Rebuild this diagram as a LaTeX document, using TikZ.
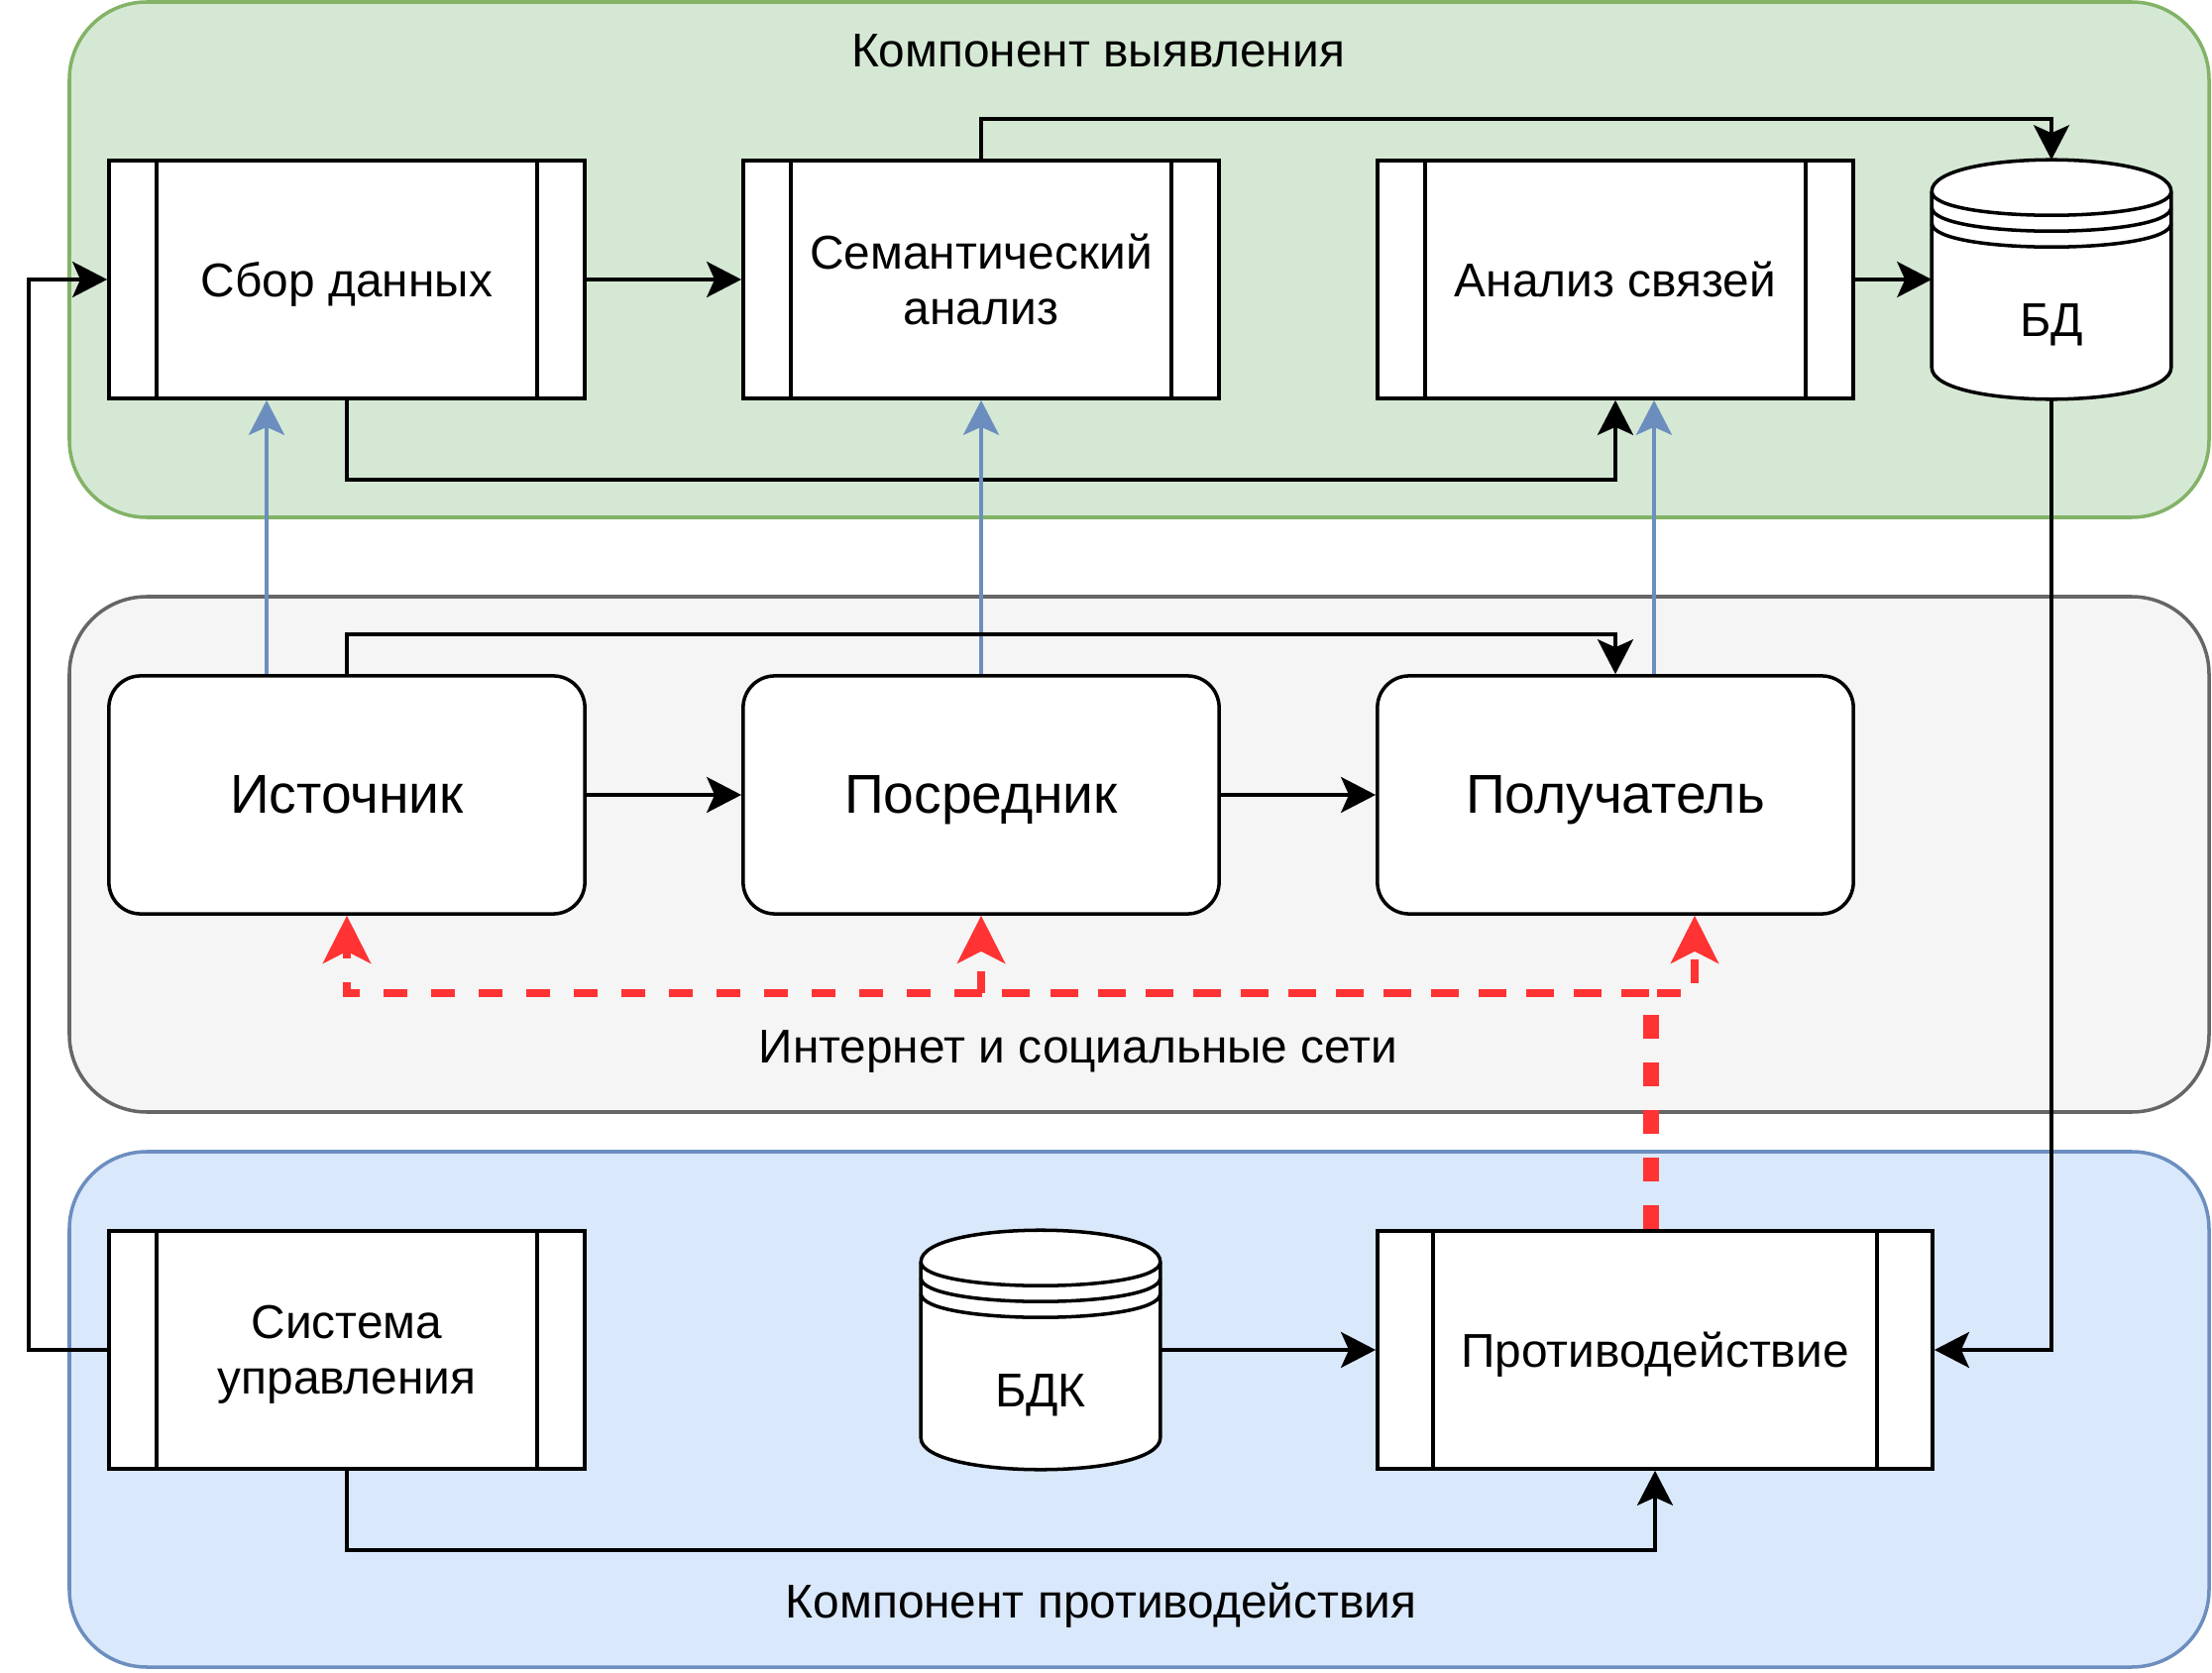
\documentclass[tikz,border=0pt]{standalone}
\usepackage{fontspec}
\setmainfont{Liberation Sans}
\usepackage{tikz}
\usetikzlibrary{calc,arrows.meta}
\usepackage{xcolor}
\definecolor{grnFill}{HTML}{D5E8D4}
\definecolor{grnLine}{HTML}{82B366}
\definecolor{gryFill}{HTML}{F5F5F5}
\definecolor{gryLine}{HTML}{666666}
\definecolor{bluFill}{HTML}{DAE8FC}
\definecolor{bluLine}{HTML}{6C8EBF}
\definecolor{redLine}{HTML}{FF3333}
\newcommand{\smallfont}{\fontsize{13.6}{16}\selectfont}
\newcommand{\bigfont}{\fontsize{15.7}{18}\selectfont}
% datastore drum drawn round an empty node
\newcommand{\drum}[1]{%
  \filldraw[fill=white,line width=1pt]
    ($(#1.north west)+(0,32)$) .. controls ($(#1.north west)+(0,-10.67)$) and ($(#1.north east)+(0,-10.67)$) .. ($(#1.north east)+(0,32)$)
    -- ($(#1.south east)+(0,-32)$) .. controls ($(#1.south east)+(0,10.67)$) and ($(#1.south west)+(0,10.67)$) .. ($(#1.south west)+(0,-32)$) -- cycle;
  \foreach \k in {0,16,32}
    \draw[line width=1pt] ($(#1.north west)+(0,32+\k)$) .. controls ($(#1.north west)+(0,64+\k)$) and ($(#1.north east)+(0,64+\k)$) .. ($(#1.north east)+(0,32+\k)$);
}

\begin{document}
\begin{tikzpicture}[x=0.01cm,y=-0.01cm,
    every node/.style={font=\smallfont,inner sep=0pt,text depth=0pt},
    panel/.style={line width=1pt,rounded corners=0.78cm},
    procbox/.style={draw,line width=1pt,fill=white,minimum width=4.8cm,minimum height=2.4cm,align=center,
      path picture={
        \draw[line width=1pt] ($(path picture bounding box.south west)!0.1!(path picture bounding box.south east)$) -- ($(path picture bounding box.north west)!0.1!(path picture bounding box.north east)$);
        \draw[line width=1pt] ($(path picture bounding box.south west)!0.9!(path picture bounding box.south east)$) -- ($(path picture bounding box.north west)!0.9!(path picture bounding box.north east)$);
      }},
    netbox/.style={draw,line width=1pt,fill=white,rounded corners=0.32cm,minimum width=4.8cm,minimum height=2.4cm,font=\bigfont},
    drumbox/.style={minimum width=2.4cm,minimum height=2.4cm},
    lbl/.style={anchor=base},
    link/.style={line width=1pt,-{Stealth[length=0.35cm,width=0.36cm,inset=0.08cm]}},
    blink/.style={line width=1pt,bluLine,-{Stealth[length=0.35cm,width=0.36cm,inset=0.08cm]}},
    rlink/.style={line width=2.2pt,redLine,dash pattern=on 0.24cm off 0.24cm,-{Stealth[length=0.48cm,width=0.48cm,inset=0.12cm]}}]

    % page
    \fill[white] (0,0) rectangle (2232,1688);
    \useasboundingbox (0,0) rectangle (2232,1688);

    % three layers
    \filldraw[panel,fill=grnFill,draw=grnLine] (70,2) rectangle (2229,522);
    \filldraw[panel,fill=gryFill,draw=gryLine] (70,602) rectangle (2229,1122);
    \filldraw[panel,fill=bluFill,draw=bluLine] (70,1162) rectangle (2229,1682);

    \node[lbl] (detTitle) at (1108,68) {Компонент выявления};
    \node[lbl] (netTitle) at (1088,1072) {Интернет и социальные сети};
    \node[lbl] (cntTitle) at (1111,1632) {Компонент противодействия};

    % detection component
    \node[procbox] (sbor) at (350,282) {Сбор данных};
    \node[procbox] (sem) at (990,282) {Семантический\\анализ};
    \node[procbox] (anal) at (1630,282) {Анализ связей};
    \node[drumbox] (bd) at (2070,282) {};
    \drum{bd}
    \node (bdText) at ($(bd.center)+(0,41)$) {БД};

    % network
    \node[netbox] (ist) at (350,802) {Источник};
    \node[netbox] (pos) at (990,802) {Посредник};
    \node[netbox] (pol) at (1630,802) {Получатель};

    % counteraction component
    \node[procbox] (sys) at (350,1362) {Система\\управления};
    \node[drumbox] (bdk) at (1050,1362) {};
    \drum{bdk}
    \node (bdkText) at ($(bdk.center)+(0,41)$) {БДК};
    \node[procbox,minimum width=5.6cm] (prot) at (1670,1362) {Противодействие};

    % links
    \draw[link] (sbor) -- (sem);
    \draw[link] (anal) -- (bd);
    \draw[link] (sem.north) -- ++(0,-40) -| (bd.north);
    \draw[link] (sbor.south) -- ++(0,80) -| (anal.south);

    \draw[blink] ($(ist.north)+(-81,0)$) -- ($(sbor.south)+(-81,0)$);
    \draw[blink] (pos.north) -- (sem.south);
    \draw[blink] ($(pol.north)+(39,0)$) -- ($(anal.south)+(39,0)$);

    \draw[link] (ist.north) -- ++(0,-40) -| (pol.north);
    \draw[link] (ist) -- (pos);
    \draw[link] (pos) -- (pol);

    \draw[rlink] ($(prot.north)+(-8,0)$) -- ++(0,-238) -| (ist.south);
    \draw[rlink] ($(prot.north)+(-4,0)$) -- ++(0,-238) -| (pos.south);
    \draw[rlink] (prot.north) -- ++(0,-238) -| ($(pol.south)+(80,0)$);

    \draw[link] (sys.west) -- ++(-79,0) |- (sbor.west);
    \draw[link] (sys.south) -- ++(0,80) -| (prot.south);
    \draw[link] (bdk) -- (prot);
    \draw[link] (bd.south) |- (prot.east);

\end{tikzpicture}
\end{document}
